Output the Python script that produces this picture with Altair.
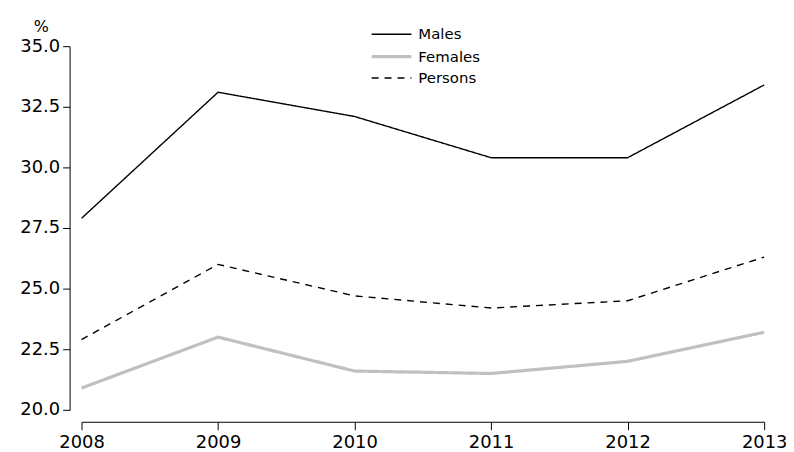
import altair as alt
import pandas as pd

years = [2008, 2009, 2010, 2011, 2012, 2013]
males = [27.9, 33.1, 32.1, 30.4, 30.4, 33.4]
females = [20.9, 23.0, 21.6, 21.5, 22.0, 23.2]
persons = [22.9, 26.0, 24.7, 24.2, 24.5, 26.3]
series = ["Males", "Females", "Persons"]
widths = [1.4, 3.2, 1.4]

rows = []
for name, vals in zip(series, [males, females, persons]):
    for y, v in zip(years, vals):
        rows.append({"year": y, "value": v, "series": name})
df = pd.DataFrame(rows)

FONT = "DejaVu Sans"

chart = alt.Chart(df).mark_line().encode(
    x=alt.X("year:Q",
            scale=alt.Scale(domain=[2008, 2013], nice=False, zero=False),
            axis=alt.Axis(title=None, values=years, format="d", offset=12,
                          grid=False, labelFontSize=18, labelFont=FONT,
                          labelColor="black", domainColor="black", tickColor="black",
                          tickSize=8, labelPadding=4, labelFlush=False)),
    y=alt.Y("value:Q",
            scale=alt.Scale(domain=[20, 35], nice=False, zero=False),
            axis=alt.Axis(title="%", titleAngle=0, titleX=-29, titleY=-20,
                          titleAlign="center", titleBaseline="middle",
                          titleFontWeight="normal",
                          titleFontSize=16, titleFont=FONT, titleColor="black",
                          values=[20, 22.5, 25, 27.5, 30, 32.5, 35], format=".1f",
                          offset=12, grid=False, labelFontSize=18, labelFont=FONT,
                          labelColor="black", domainColor="black", tickColor="black",
                          tickSize=7, labelPadding=3)),
    color=alt.Color("series:N",
                    scale=alt.Scale(domain=series, range=["black", "#c0c0c0", "black"]),
                    legend=alt.Legend(title=None, orient="none", legendX=300, legendY=-23,
                                      symbolType="M-2,0H2", symbolSize=400,
                                      labelFontSize=15, labelFont=FONT, labelColor="black",
                                      labelOffset=15, rowPadding=2.5)),
    strokeDash=alt.StrokeDash("series:N",
                              scale=alt.Scale(domain=series, range=[[1, 0], [1, 0], [7, 6]]),
                              legend=None),
    strokeWidth=alt.StrokeWidth("series:N",
                                scale=alt.Scale(type="ordinal", domain=series, range=widths),
                                legend=None),
).properties(
    width=687, height=366,
    autosize=alt.AutoSizeParams(type="none"),
    padding={"left": 74, "top": 37, "right": 22, "bottom": 41},
).configure_view(stroke=None)

chart.save("out.html", embed_options={"renderer": "svg", "actions": False})
